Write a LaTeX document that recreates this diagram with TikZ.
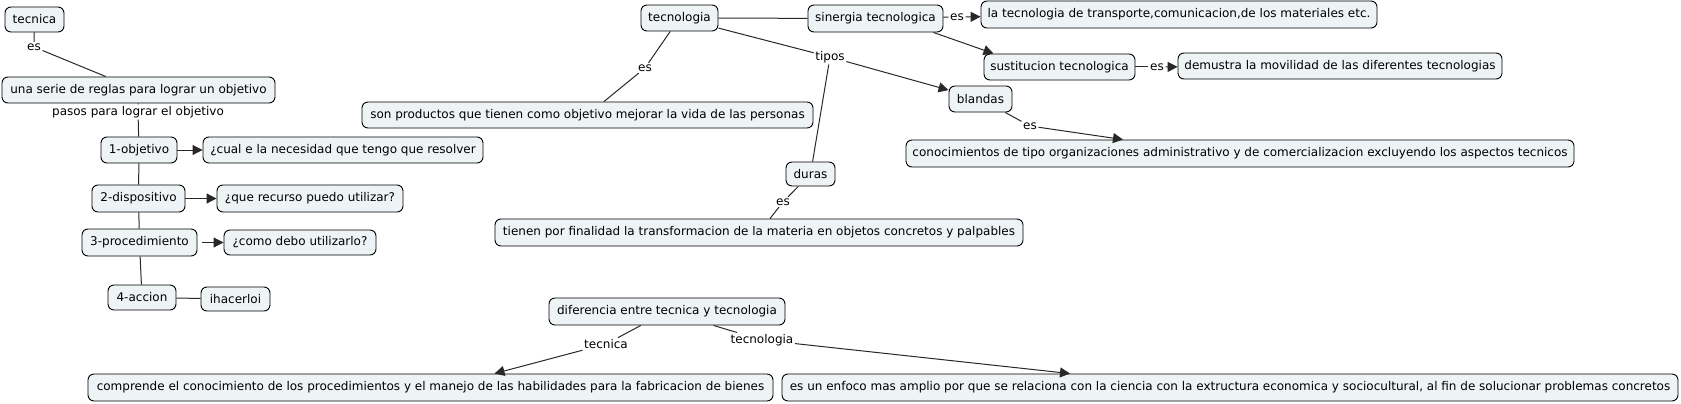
\documentclass[tikz,border=0pt]{standalone}
\usepackage{fontspec}
\setmainfont{DejaVu Sans}
\usetikzlibrary{arrows.meta}
\definecolor{boxfill}{RGB}{238,243,245}
\definecolor{linecol}{RGB}{40,40,40}
\begin{document}
\begin{tikzpicture}[x=1pt,y=-1pt,
  box/.style={draw=black, line width=0.9pt, rounded corners=6pt, fill=boxfill, inner xsep=2pt, inner ysep=0pt, font=\fontsize{12}{14}\selectfont, text=black},
  lbl/.style={inner sep=1.5pt, font=\fontsize{12}{14}\selectfont, text=black},
  link/.style={draw=linecol, line width=1pt},
  arr/.style={link, -{Triangle[length=10pt,width=10pt]}}]
\useasboundingbox (0,0) rectangle (1681,404);
\fill[white] (0,0) rectangle (1681,404);

% left column
\node[box, minimum width=59pt, minimum height=25pt] (tecnica) at (34.5,19.5) {tecnica};
\node[box, minimum width=273pt, minimum height=26pt] (unaserie) at (138.5,90) {una serie de reglas para lograr un objetivo};
\node[box, minimum width=76pt, minimum height=26pt] (obj1) at (139,150) {1-objetivo};
\node[box, minimum width=280pt, minimum height=26pt] (cual) at (343,150) {¿cual e la necesidad que tengo que resolver};
\node[box, minimum width=93pt, minimum height=27pt] (disp2) at (138.5,198.5) {2-dispositivo};
\node[box, minimum width=186pt, minimum height=27pt] (recurso) at (310,198.5) {¿que recurso puedo utilizar?};
\node[box, minimum width=115pt, minimum height=27pt] (proc3) at (139.5,242.5) {3-procedimiento};
\node[box, minimum width=152pt, minimum height=25pt] (como) at (300,242.5) {¿como debo utilizarlo?};
\node[box, minimum width=68pt, minimum height=25pt] (accion4) at (142,297.5) {4-accion};
\node[box, minimum width=69pt, minimum height=24pt] (hacer) at (235.5,299) {ihacerloi};

% top middle / right
\node[box, minimum width=77pt, minimum height=26pt] (tecnologia) at (679.5,18) {tecnologia};
\node[box, minimum width=135pt, minimum height=27pt] (sinergia) at (875.5,18.5) {sinergia tecnologica};
\node[box, minimum width=396pt, minimum height=27pt] (latec) at (1179,14.5) {la tecnologia de transporte,comunicacion,de los materiales etc.};
\node[box, minimum width=151pt, minimum height=26pt] (sust) at (1059.5,67) {sustitucion tecnologica};
\node[box, minimum width=324pt, minimum height=26pt] (demustra) at (1340,66) {demustra la movilidad de las diferentes tecnologias};
\node[box, minimum width=451pt, minimum height=26pt] (son) at (587.5,115) {son productos que tienen como objetivo mejorar la vida de las personas};
\node[box, minimum width=63pt, minimum height=26pt] (blandas) at (980.5,99) {blandas};
\node[box, minimum width=668pt, minimum height=27pt] (cono) at (1240,153.5) {conocimientos de tipo organizaciones administrativo y de comercializacion excluyendo los aspectos tecnicos};
\node[box, minimum width=49pt, minimum height=24pt] (duras) at (810.5,174) {duras};
\node[box, minimum width=528pt, minimum height=27pt] (tienen) at (759,232.5) {tienen por finalidad la transformacion de la materia en objetos concretos y palpables};

% bottom
\node[box, minimum width=236pt, minimum height=27pt] (dif) at (667,311.5) {diferencia entre tecnica y tecnologia};
\node[box, minimum width=685pt, minimum height=27pt] (comp) at (430.5,387.5) {comprende el conocimiento de los procedimientos y el manejo de las habilidades para la fabricacion de bienes};
\node[box, minimum width=896pt, minimum height=27pt] (enfoco) at (1230,387.5) {es un enfoco mas amplio por que se relaciona con la ciencia con la extructura economica y sociocultural, al fin de solucionar problemas concretos};

% labels
\node[lbl] (es1) at (34,47) {es};
\node[lbl] (pasos) at (138,112) {pasos para lograr el objetivo};
\node[lbl] (estec) at (645,68) {es};
\node[lbl] (tipos) at (830,57) {tipos};
\node[lbl] (essin) at (957,17) {es};
\node[lbl] (essust) at (1157,67) {es};
\node[lbl] (esbl) at (1030,126) {es};
\node[lbl] (esdu) at (783,202) {es};
\node[lbl] (ltecnica) at (606,344) {tecnica};
\node[lbl] (ltecnologia) at (762,340) {tecnologia};

% connectors
\draw[link] (tecnica) -- (es1);
\draw[link] (es1) -- (unaserie);
\draw[link] (unaserie) -- (pasos);
\draw[link] (pasos) -- (obj1);
\draw[arr] (obj1) -- (cual);
\draw[link] (obj1) -- (disp2);
\draw[arr] (disp2) -- (recurso);
\draw[link] (disp2) -- (proc3);
\draw[arr, shorten <=5pt] (proc3) -- (como);
\draw[link] (proc3) -- (accion4);
\draw[link] (accion4) -- (hacer);

\draw[link] (tecnologia) -- (sinergia);
\draw[link] (tecnologia) -- (estec);
\draw[link] (estec) -- (son);
\draw[link] (tecnologia) -- (tipos);
\draw[arr] (tipos) -- (blandas);
\draw[link] (tipos) -- (duras);
\draw[link] (sinergia) -- (essin);
\draw[arr] (essin) -- (latec);
\draw[arr] ([xshift=-10pt]sinergia.south east) -- ([xshift=-66pt]sust.north);
\draw[link] (sust) -- (essust);
\draw[arr] (essust) -- (demustra);
\draw[link] (blandas) -- (esbl);
\draw[arr] (esbl) -- ([xshift=-117pt]cono.north);
\draw[link] (duras) -- (esdu);
\draw[link] (esdu) -- (tienen);

\draw[link] (dif) -- (ltecnica);
\draw[arr] (ltecnica) -- ([xshift=64pt]comp.north);
\draw[link] (dif) -- (ltecnologia);
\draw[arr] (ltecnologia) -- ([xshift=-160pt]enfoco.north);
\end{tikzpicture}
\end{document}
